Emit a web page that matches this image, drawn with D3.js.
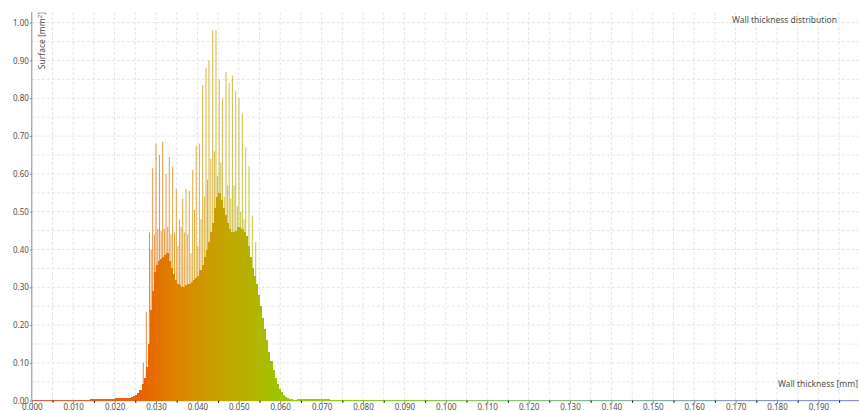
<!DOCTYPE html>
<html>
<head>
<meta charset="utf-8">
<script src="https://cdn.jsdelivr.net/npm/d3@7"></script>
<style>
body { margin: 0; background: #fff; }
text { font-family: "Noto Sans", sans-serif; fill: #505050; }
</style>
</head>
<body>
<div id="chart"></div>
<script>
// Histogram data (thickness in mm, surface in mm2)
var lowTailStart = 0.000, lowTailWidth = 0.002;
var lowTail = [0.002, 0.002, 0.002, 0.002, 0.002, 0.003, 0.003, 0.004, 0.004, 0.005, 0.006, 0.008];

var coreStart = 0.024, coreWidth = 0.0005;
var coreSurface = [
    0.010, 0.012, 0.015, 0.020, 0.028, 0.045, 0.060, 0.090, 0.150, 0.240,
    0.290, 0.340, 0.360, 0.370, 0.375, 0.380, 0.385, 0.390, 0.370, 0.350,
    0.335, 0.320, 0.310, 0.305, 0.300, 0.300, 0.305, 0.310, 0.310, 0.315,
    0.320, 0.325, 0.330, 0.345, 0.360, 0.380, 0.400, 0.420, 0.445, 0.470,
    0.510, 0.540, 0.550, 0.530, 0.510, 0.490, 0.470, 0.455, 0.445, 0.445,
    0.450, 0.460, 0.460, 0.455, 0.445, 0.435, 0.410, 0.380, 0.350, 0.330,
    0.310, 0.280, 0.250, 0.220, 0.190, 0.160, 0.130, 0.105, 0.080, 0.060,
    0.045, 0.032, 0.022, 0.015, 0.010, 0.007, 0.005, 0.004, 0.003, 0.003
];

var highTailStart = 0.064, highTailWidth = 0.004;
var highTail = [0.004, 0.0035, 0.003, 0.003, 0.003, 0.003, 0.003, 0.003, 0.003, 0.003,
                0.003, 0.003, 0.003, 0.003, 0.003, 0.003, 0.003, 0.003, 0.003, 0.003,
                0.003, 0.003, 0.003, 0.003, 0.003, 0.003, 0.003, 0.003, 0.003, 0.003,
                0.003, 0.003, 0.003, 0.003];

// tall narrow peaks
var spikeThickness = [0.02693, 0.02766, 0.02843, 0.02920, 0.03000, 0.03085, 0.03162, 0.03242,
                      0.03321, 0.03403, 0.03490, 0.03568, 0.03645, 0.03725, 0.03804, 0.03886,
                      0.03971, 0.04048, 0.04128, 0.04208, 0.04280, 0.04370, 0.04449, 0.04527,
                      0.04604, 0.04691, 0.04768, 0.04845, 0.04925, 0.05005, 0.05085, 0.05167,
                      0.05246, 0.05326, 0.05408, 0.05488, 0.05565];
var spikeSurface = [0.10, 0.235, 0.445, 0.615, 0.68, 0.65, 0.685, 0.60,
                    0.645, 0.62, 0.56, 0.48, 0.535, 0.56, 0.555, 0.61,
                    0.675, 0.68, 0.835, 0.88, 0.90, 0.98, 0.98, 0.85,
                    0.80, 0.87, 0.84, 0.86, 0.82, 0.80, 0.76, 0.67,
                    0.62, 0.49, 0.42, 0.26, 0.20];

// smaller peaks in between
var midThickness = [0.02882, 0.02960, 0.03043, 0.03124, 0.03202, 0.03282, 0.03362, 0.03447,
                    0.03529, 0.03607, 0.03685, 0.03765, 0.03845, 0.03929, 0.04010, 0.04088,
                    0.04168, 0.04244, 0.04325, 0.04410, 0.04488, 0.04566, 0.04648, 0.04730,
                    0.04807, 0.04885, 0.04965, 0.05045, 0.05126, 0.05207, 0.05286, 0.05367];
var midSurface = [0.40, 0.44, 0.455, 0.45, 0.455, 0.46, 0.44, 0.445,
                  0.41, 0.46, 0.445, 0.44, 0.39, 0.505, 0.41, 0.48,
                  0.54, 0.585, 0.64, 0.66, 0.595, 0.63, 0.54, 0.57,
                  0.535, 0.57, 0.515, 0.50, 0.48, 0.39, 0.34, 0.29];

var xTicks = [0.00, 0.01, 0.02, 0.03, 0.04, 0.05, 0.06, 0.07, 0.08, 0.09,
              0.10, 0.11, 0.12, 0.13, 0.14, 0.15, 0.16, 0.17, 0.18, 0.19];
var yTicks = [0.0, 0.1, 0.2, 0.3, 0.4, 0.5, 0.6, 0.7, 0.8, 0.9, 1.0];

var colorStops = [0.000, 0.027, 0.035, 0.045, 0.055, 0.062, 0.120, 0.200];
var colorValues = ['#e06050', '#e86400', '#dd8400', '#c8a200', '#aeb800', '#96cb00', '#86c47a', '#8c8ce6'];

// Layout
var WIDTH = 859,
    HEIGHT = 411;

var x = d3.scaleLinear().domain([0, 0.2]).range([31.8, 859.8]);
var y = d3.scaleLinear().domain([0, 1]).range([400.7, 22.7]);
var color = d3.scaleLinear().domain(colorStops).range(colorValues);

var bins = [];
var addBins = function(start, width, values) {
    values.forEach(function(v, i) {
        bins.push({ x0: start + i * width, x1: start + (i + 1) * width, v: v });
    });
};
addBins(lowTailStart, lowTailWidth, lowTail);
addBins(coreStart, coreWidth, coreSurface);
addBins(highTailStart, highTailWidth, highTail);

var svg = d3.select('#chart')
    .append('svg')
    .attr('width', WIDTH)
    .attr('height', HEIGHT);

// grid
var plotTop = 12;
svg.append('g')
    .selectAll('line')
    .data(d3.range(1, 40).map(function(i) { return i * 0.005; }))
    .enter()
    .append('line')
    .attr('x1', function(d) { return x(d); })
    .attr('x2', function(d) { return x(d); })
    .attr('y1', plotTop)
    .attr('y2', y(0))
    .attr('stroke', '#e6e6e6')
    .attr('stroke-dasharray', '3,2');

svg.append('g')
    .selectAll('line')
    .data(d3.range(1, 21).map(function(i) { return i * 0.05; }))
    .enter()
    .append('line')
    .attr('x1', x(0))
    .attr('x2', WIDTH)
    .attr('y1', function(d) { return y(d); })
    .attr('y2', function(d) { return y(d); })
    .attr('stroke', '#e6e6e6')
    .attr('stroke-dasharray', '3,2');

// axis lines
svg.append('line')
    .attr('x1', x(0)).attr('x2', x(0))
    .attr('y1', plotTop).attr('y2', y(0))
    .attr('stroke', '#8a8a8a');
svg.append('line')
    .attr('x1', x(0)).attr('x2', WIDTH)
    .attr('y1', y(0)).attr('y2', y(0))
    .attr('stroke', '#9a9a9a');

// base histogram
svg.append('g')
    .attr('shape-rendering', 'crispEdges')
    .selectAll('.bin')
    .data(bins)
    .enter()
    .append('rect')
    .attr('class', 'bin')
    .attr('x', function(d) { return x(d.x0); })
    .attr('width', function(d) { return x(d.x1) - x(d.x0) + 0.6; })
    .attr('y', function(d) { return y(d.v); })
    .attr('height', function(d) { return y(0) - y(d.v); })
    .attr('fill', function(d) { return color((d.x0 + d.x1) / 2); });

// peaks
var peaks = spikeThickness.map(function(t, i) { return { t: t, v: spikeSurface[i] }; })
    .concat(midThickness.map(function(t, i) { return { t: t, v: midSurface[i] }; }));

svg.append('g')
    .selectAll('.peak')
    .data(peaks)
    .enter()
    .append('rect')
    .attr('class', 'peak')
    .attr('x', function(d) { return x(d.t) - 0.5; })
    .attr('width', 1)
    .attr('y', function(d) { return y(d.v); })
    .attr('height', function(d) { return y(0) - y(d.v); })
    .attr('fill', function(d) { return color(d.t); })
    .attr('fill-opacity', 0.75);

// axes
var yAxis = svg.append('g')
    .attr('transform', 'translate(' + x(0) + ',0)')
    .call(d3.axisLeft(y).tickValues(yTicks).tickFormat(d3.format('.2f')).tickSize(2).tickPadding(1));
var xAxis = svg.append('g')
    .attr('transform', 'translate(0,' + y(0) + ')')
    .call(d3.axisBottom(x).tickValues(xTicks).tickFormat(d3.format('.3f')).tickSize(3).tickPadding(1));
svg.append('g')
    .attr('transform', 'translate(0,' + y(0) + ')')
    .call(d3.axisBottom(x).tickValues(xTicks.map(function(d) { return d + 0.005; })).tickFormat('').tickSize(2))
    .select('.domain').remove();

[yAxis, xAxis].forEach(function(a) {
    a.select('.domain').remove();
    a.selectAll('line').attr('stroke', '#8a8a8a');
    a.selectAll('text').style('font-size', '8px').attr('fill', '#505050');
});

// labels
svg.append('text')
    .attr('x', 837)
    .attr('y', 23)
    .attr('text-anchor', 'end')
    .style('font-size', '8.5px')
    .text('Wall thickness distribution');

svg.append('text')
    .attr('x', 858)
    .attr('y', 387)
    .attr('text-anchor', 'end')
    .style('font-size', '8.5px')
    .text('Wall thickness [mm]');

var yl = svg.append('text')
    .attr('transform', 'translate(44.5,12) rotate(-90)')
    .attr('text-anchor', 'end')
    .style('font-size', '8.5px');
yl.append('tspan').text('Surface [mm');
yl.append('tspan').attr('dy', -3).style('font-size', '6px').text('2');
yl.append('tspan').attr('dy', 3).text(']');
</script>
</body>
</html>
